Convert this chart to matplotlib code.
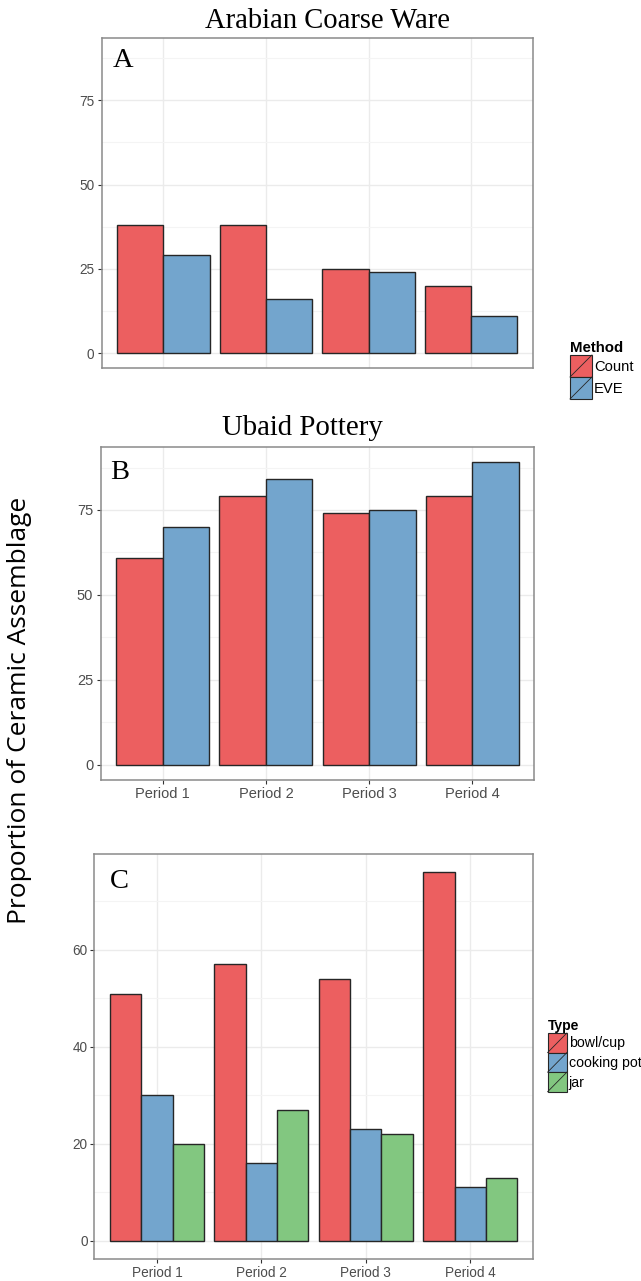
import numpy as np
import matplotlib
matplotlib.use("Agg")
import matplotlib.pyplot as plt
from matplotlib.patches import Patch, Rectangle
from matplotlib.lines import Line2D
from matplotlib.legend_handler import HandlerBase

# data
periods = ['Period 1', 'Period 2', 'Period 3', 'Period 4']
arabian_count = [38, 38, 25, 20]
arabian_eve = [29, 16, 24, 11]
ubaid_count = [61, 79, 74, 79]
ubaid_eve = [70, 84, 75, 89]
bowl_cup = [51, 57, 54, 76]
cooking_pot = [30, 16, 23, 11]
jar = [20, 27, 22, 13]

method_labels = ['Count', 'EVE']
type_labels = ['bowl/cup', 'cooking pot', 'jar']

RED = '#EC5F60'
BLUE = '#73A5CD'
GREEN = '#82C780'
EDGE = '#262626'

plt.rcParams['font.family'] = 'Liberation Sans'

W, H = 641, 1281
fig = plt.figure(figsize=(W / 100, H / 100), dpi=100)


def px_rect(l, t, r, b):
    return [l / W, 1 - b / H, (r - l) / W, (b - t) / H]


class KeyHandler(HandlerBase):
    # ggplot-style key: filled square with a diagonal slash
    def create_artists(self, legend, orig_handle, xdescent, ydescent, width, height, fontsize, trans):
        x0, y0 = -xdescent, -ydescent
        r = Rectangle((x0, y0), width, height, facecolor=orig_handle.get_facecolor(),
                      edgecolor=EDGE, lw=0.8, transform=trans)
        l = Line2D([x0, x0 + width], [y0, y0 + height], color=EDGE, lw=0.6, transform=trans)
        return [r, l]


def style_axes(ax, ymax, major, show_x=True, labelsize=9.7, pad=2.4):
    n = len(periods)
    x = np.arange(n)
    ax.set_xlim(-0.6, n - 1 + 0.6)
    ax.set_ylim(-0.05 * ymax, 1.05 * ymax)
    ax.set_xticks(x)
    ax.set_xticklabels(periods)
    ax.set_yticks(major)
    step = major[1] - major[0]
    ax.set_yticks([m + step / 2 for m in major], minor=True)
    ax.grid(True, which='major', color='#EBEBEB', lw=1.0)
    ax.grid(True, which='minor', axis='y', color='#F4F4F4', lw=0.8)
    ax.set_axisbelow(True)
    for s in ax.spines.values():
        s.set_color('#8a8a8a')
        s.set_linewidth(1.1)
    ax.tick_params(which='minor', length=0)
    ax.tick_params(which='major', length=3.0, width=0.8, color='#333333',
                   labelcolor='#4D4D4D', labelsize=labelsize, pad=pad)
    if not show_x:
        ax.tick_params(axis='x', bottom=False, labelbottom=False)


def grouped_bars(ax, series, colors):
    n = len(series)
    w = 0.9 / n
    x = np.arange(len(periods))
    for i, (vals, c) in enumerate(zip(series, colors)):
        ax.bar(x - 0.45 + w * (i + 0.5), vals, width=w, color=c, edgecolor=EDGE, linewidth=1.0)


shared_max = max(max(arabian_count), max(arabian_eve), max(ubaid_count), max(ubaid_eve))

# panel A
axA = fig.add_axes(px_rect(101.8, 38, 532.8, 368.3))
grouped_bars(axA, [arabian_count, arabian_eve], [RED, BLUE])
style_axes(axA, shared_max, [0, 25, 50, 75], show_x=False, labelsize=9.8)

# panel B
axB = fig.add_axes(px_rect(100.7, 447.3, 534.3, 780))
grouped_bars(axB, [ubaid_count, ubaid_eve], [RED, BLUE])
style_axes(axB, shared_max, [0, 25, 50, 75], labelsize=10.5, pad=2.4)

# panel C
axC = fig.add_axes(px_rect(94.4, 854, 532.8, 1259))
grouped_bars(axC, [bowl_cup, cooking_pot, jar], [RED, BLUE, GREEN])
style_axes(axC, max(bowl_cup), [0, 20, 40, 60], labelsize=9.8, pad=1.8)

# titles and panel letters
fig.text(327.5 / W, 1 - 28.5 / H, 'Arabian Coarse Ware', family='Liberation Serif', fontsize=20.6,
         ha='center', va='baseline')
fig.text(302 / W, 1 - 435 / H, 'Ubaid Pottery', family='Liberation Serif', fontsize=20.8,
         ha='center', va='baseline')
for letter, lx, ly in [('A', 112.5, 66.7), ('B', 110, 479), ('C', 110, 888)]:
    fig.text(lx / W, 1 - ly / H, letter, family='Liberation Serif', fontsize=20.5,
             ha='left', va='baseline')

fig.text(20 / W, 1 - 710 / H, 'Proportion of Ceramic Assemblage', family='Open Sans',
         fontsize=19, rotation=90, ha='center', va='center')

# legends (handleheight chosen so the drawn key is ~22px / ~19.5px tall)
hm = {Patch: KeyHandler()}
legA = fig.legend([Patch(facecolor=c) for c in [RED, BLUE]], method_labels, title='Method',
                  loc='upper left', bbox_to_anchor=(570 / W, 1 - 341 / H), frameon=False,
                  fontsize=10.6, title_fontproperties={'weight': 'bold', 'size': 10.8},
                  handler_map=hm, handlelength=1.49, handleheight=1.92, handletextpad=0.15,
                  labelspacing=0, borderpad=0, borderaxespad=0, alignment='left')
legC = fig.legend([Patch(facecolor=c) for c in [RED, BLUE, GREEN]], type_labels, title='Type',
                  loc='upper left', bbox_to_anchor=(547.6 / W, 1 - 1019 / H), frameon=False,
                  fontsize=10.2, title_fontproperties={'weight': 'bold', 'size': 10},
                  handler_map=hm, handlelength=1.36, handleheight=1.75, handletextpad=0.12,
                  labelspacing=0, borderpad=0, borderaxespad=0, alignment='left')

fig.savefig('out.png', dpi=100)
